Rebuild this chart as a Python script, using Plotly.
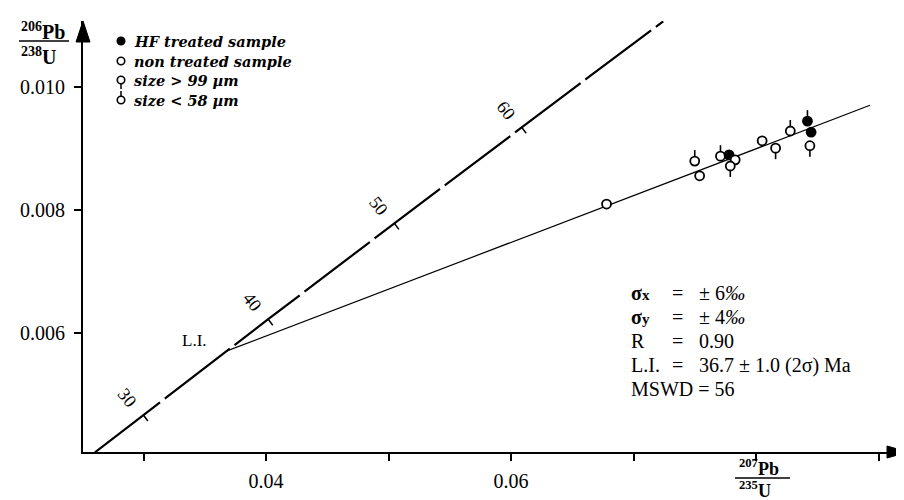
import plotly.graph_objects as go

# ---------------- data ----------------
concordia_x = [0.02604, 0.02999, 0.03681, 0.04018, 0.05048, 0.06087, 0.06611, 0.07243]
concordia_y = [0.004057, 0.004665, 0.005709, 0.006224, 0.007786, 0.009351, 0.010134, 0.011075]

age_ticks = [30, 40, 50, 60]
age_tick_x = [0.02999, 0.04018, 0.05048, 0.06087]
age_tick_y = [0.004665, 0.006224, 0.007786, 0.009351]

li_x = 0.03681
li_y = 0.005709
discordia_x = [0.03681, 0.0893]
discordia_y = [0.005709, 0.009708]

pb207_u235 = [0.0678, 0.0750, 0.0754, 0.0771, 0.0778, 0.0783, 0.0779, 0.0805, 0.0816, 0.0828, 0.0842, 0.0845, 0.0844]
pb206_u238 = [0.00810, 0.00880, 0.00856, 0.00888, 0.00890, 0.00882, 0.00872, 0.00913, 0.00901, 0.00929, 0.00945, 0.00927, 0.00905]
hf_treated = [False, False, False, False, True, False, False, False, False, False, True, True, False]
grain_size = ["", "<58", "", "<58", "", "", ">99", "", ">99", "<58", "<58", "", ">99"]

x_major_ticks = [0.04, 0.06]
x_major_labels = ["0.04", "0.06"]
x_minor_ticks = [0.03, 0.05, 0.07, 0.08, 0.09]
y_ticks = [0.006, 0.008, 0.010]
y_tick_labels = ["0.006", "0.008", "0.010"]

legend_labels = ["HF treated sample", "non treated sample", "size > 99 µm", "size < 58 µm"]
legend_filled = [True, False, False, False]
legend_stem = ["", "", ">99", "<58"]

stats_names = ["<b>σ<span style='font-size:15px'>x</span></b>",
               "<b>σ<span style='font-size:15px'>y</span></b>",
               "R", "L.I."]
stats_values = ["± 6<i>‰</i>", "± 4<i>‰</i>", "0.90", "36.7 ± 1.0 (2σ) Ma"]
mswd_text = "MSWD = 56"

# ---------------- layout geometry (pixels) ----------------
W, H = 904, 500
ML, MR, MT, MB = 75, 4, 13, 56
PW, PH = W - ML - MR, H - MT - MB
X_RANGE = [0.025061, 0.092408]
Y_RANGE = [0.004062, 0.011081]
PX_PER_X = PW / (X_RANGE[1] - X_RANGE[0])
PX_PER_Y = PH / (Y_RANGE[1] - Y_RANGE[0])


def PX(x):
    return (x - ML) / PW


def PY(y):
    return (H - MB - y) / PH


SERIF = "Liberation Serif"
SCRIPT = "DejaVu Serif"
STEM = 11  # px

fig = go.Figure()

# concordia
fig.add_trace(go.Scatter(x=concordia_x, y=concordia_y, mode="lines",
                         line=dict(color="black", width=2.2, dash="82px,6px"),
                         hoverinfo="skip", showlegend=False))

# age tick marks on the concordia
tx, ty = [], []
for x, y in zip(age_tick_x, age_tick_y):
    tx += [x, x + 4.5 / PX_PER_X, None]
    ty += [y, y - 6.0 / PX_PER_Y, None]
fig.add_trace(go.Scatter(x=tx, y=ty, mode="lines", line=dict(color="black", width=1.5),
                         hoverinfo="skip", showlegend=False))

# discordia
fig.add_trace(go.Scatter(x=discordia_x, y=discordia_y, mode="lines",
                         line=dict(color="black", width=1.2),
                         hoverinfo="skip", showlegend=False))

# data points
stem_y = STEM / PX_PER_Y
fig.add_trace(go.Scatter(
    x=pb207_u235, y=pb206_u238, mode="markers",
    marker=dict(size=9, symbol="circle",
                color=["black" if t else "white" for t in hf_treated],
                line=dict(color="black", width=1.8)),
    error_y=dict(type="data", symmetric=False,
                 array=[stem_y if g == "<58" else 0 for g in grain_size],
                 arrayminus=[stem_y if g == ">99" else 0 for g in grain_size],
                 width=0, thickness=1.6, color="black"),
    hoverinfo="skip", showlegend=False))

# legend symbols on a pixel-unit overlay axis
leg_px_x = 113
leg_px_y = [33, 53, 72, 92]
fig.add_trace(go.Scatter(
    x=[leg_px_x] * 4, y=[-v for v in leg_px_y], mode="markers",
    xaxis="x2", yaxis="y2",
    marker=dict(size=7.5, symbol="circle",
                color=["black" if f else "white" for f in legend_filled],
                line=dict(color="black", width=1.6)),
    error_y=dict(type="data", symmetric=False,
                 array=[9 if s == "<58" else 0 for s in legend_stem],
                 arrayminus=[9 if s == ">99" else 0 for s in legend_stem],
                 width=0, thickness=1.5, color="black"),
    hoverinfo="skip", showlegend=False))

annotations = []
for lab, py in zip(legend_labels, leg_px_y):
    annotations.append(dict(xref="paper", yref="paper", x=PX(124), y=PY(py),
                            xanchor="left", yanchor="middle", showarrow=False,
                            text="<b><i>" + lab + "</i></b>",
                            font=dict(family=SCRIPT, size=14.5, color="black")))

# concordia age labels
for a, x, y in zip(age_ticks, age_tick_x, age_tick_y):
    annotations.append(dict(x=x, y=y, xref="x", yref="y", text=str(a), showarrow=False,
                            xshift=-16, yshift=17, textangle=52,
                            font=dict(family=SERIF, size=18, color="black")))

# L.I. label
annotations.append(dict(x=li_x, y=li_y, xref="x", yref="y", text="L.I.", showarrow=False,
                        xshift=-32, yshift=10,
                        font=dict(family=SERIF, size=17, color="black")))

# statistics block
FS = 20
rows_y = [285, 309, 333, 357]
for name, val, py in zip(stats_names, stats_values, rows_y):
    annotations.append(dict(xref="paper", yref="paper", x=PX(621), y=PY(py), xanchor="left",
                            yanchor="middle", showarrow=False, text=name,
                            font=dict(family=SERIF, size=FS, color="black")))
    annotations.append(dict(xref="paper", yref="paper", x=PX(662), y=PY(py), xanchor="left",
                            yanchor="middle", showarrow=False, text="=",
                            font=dict(family=SERIF, size=FS, color="black")))
    annotations.append(dict(xref="paper", yref="paper", x=PX(689), y=PY(py), xanchor="left",
                            yanchor="middle", showarrow=False, text=val,
                            font=dict(family=SERIF, size=FS, color="black")))
annotations.append(dict(xref="paper", yref="paper", x=PX(621), y=PY(381), xanchor="left",
                        yanchor="middle", showarrow=False, text=mswd_text,
                        font=dict(family=SERIF, size=FS, color="black")))

# axis titles as fractions
annotations.append(dict(xref="paper", yref="paper", x=PX(11), y=PY(23), xanchor="left",
                        yanchor="middle", showarrow=False, text="<b><sup>206</sup>Pb</b>",
                        font=dict(family=SERIF, size=20, color="black")))
annotations.append(dict(xref="paper", yref="paper", x=PX(11), y=PY(48), xanchor="left",
                        yanchor="middle", showarrow=False, text="<b><sup>238</sup>U</b>",
                        font=dict(family=SERIF, size=20, color="black")))
annotations.append(dict(xref="paper", yref="paper", x=PX(729), y=PY(459), xanchor="left",
                        yanchor="middle", showarrow=False, text="<b><sup>207</sup>Pb</b>",
                        font=dict(family=SERIF, size=18, color="black")))
annotations.append(dict(xref="paper", yref="paper", x=PX(729), y=PY(495), xanchor="left",
                        yanchor="bottom", showarrow=False, text="<b><sup>235</sup>U</b>",
                        font=dict(family=SERIF, size=18, color="black")))

shapes = [
    dict(type="line", xref="paper", yref="paper", x0=PX(11), x1=PX(61), y0=PY(33), y1=PY(33),
         line=dict(color="black", width=1.5)),
    dict(type="line", xref="paper", yref="paper", x0=PX(727), x1=PX(782), y0=PY(470), y1=PY(470),
         line=dict(color="black", width=1.5)),
    # y-axis arrowhead
    dict(type="path", xref="paper", yref="paper",
         path=f"M {PX(ML)} {PY(MT)} L {PX(ML - 7)} {PY(MT + 21)} L {PX(ML + 7)} {PY(MT + 21)} Z",
         fillcolor="black", line=dict(color="black", width=1)),
    # x-axis arrowhead
    dict(type="path", xref="paper", yref="paper",
         path=f"M {PX(W - MR)} {PY(H - MB)} L {PX(W - MR - 21)} {PY(H - MB - 6)} L {PX(W - MR - 21)} {PY(H - MB + 6)} Z",
         fillcolor="black", line=dict(color="black", width=1)),
]

fig.update_layout(
    width=W, height=H,
    margin=dict(l=ML, r=MR, t=MT, b=MB),
    paper_bgcolor="white", plot_bgcolor="white",
    showlegend=False,
    annotations=annotations, shapes=shapes,
    xaxis=dict(range=X_RANGE, showgrid=False, zeroline=False, showline=True,
               linecolor="black", linewidth=2, ticks="outside", ticklen=7, tickwidth=1.5,
               tickcolor="black", tickvals=x_major_ticks, ticktext=x_major_labels,
               minor=dict(tickvals=x_minor_ticks, ticks="outside", ticklen=7, tickwidth=1.5,
                          tickcolor="black", showgrid=False),
               tickfont=dict(family=SERIF, size=20, color="black"), ticklabelstandoff=3),
    yaxis=dict(range=Y_RANGE, showgrid=False, zeroline=False, showline=True,
               linecolor="black", linewidth=2, ticks="outside", ticklen=7, tickwidth=1.5,
               tickcolor="black", tickvals=y_ticks, ticktext=y_tick_labels,
               tickfont=dict(family=SERIF, size=20, color="black"), ticklabelstandoff=5),
    xaxis2=dict(range=[ML, W - MR], overlaying="x", anchor="y2", visible=False),
    yaxis2=dict(range=[-(H - MB), -MT], overlaying="y", anchor="x2", visible=False),
)

fig.write_html("out.html")
